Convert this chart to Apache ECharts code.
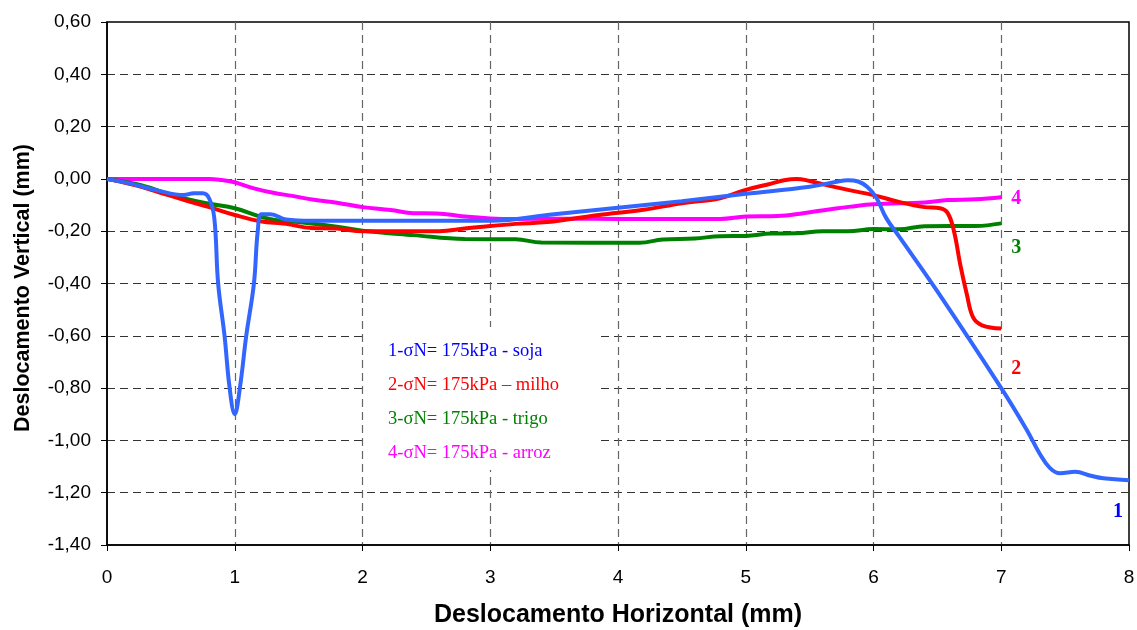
<!DOCTYPE html>
<html>
<head>
<meta charset="utf-8">
<style>
  html, body { margin: 0; padding: 0; background: #fff; }
  #chart { width: 1137px; height: 630px; }
</style>
<script src="https://cdn.jsdelivr.net/npm/echarts@6/dist/echarts.min.js"></script>
</head>
<body>
<div id="chart"></div>
<script>
// Vertical vs horizontal displacement, direct shear tests at sigma N = 175 kPa
const sojaX  = [0, 0.2, 0.4, 0.6, 0.68, 0.75, 0.8, 0.84, 0.87, 0.92, 0.96, 1.0, 1.04, 1.09, 1.15, 1.18, 1.21, 1.28, 1.4, 1.6, 2.0, 2.5, 3.0, 3.5, 4.0, 4.5, 5.0, 5.5, 5.7, 5.8, 5.88, 5.95, 6.02, 6.1, 6.2, 6.5, 7.0, 7.2, 7.3, 7.38, 7.46, 7.58, 7.7, 7.8, 8.0];
const sojaY  = [0, -0.02, -0.045, -0.062, -0.055, -0.055, -0.075, -0.15, -0.40, -0.60, -0.80, -0.90, -0.80, -0.60, -0.40, -0.20, -0.135, -0.135, -0.155, -0.16, -0.16, -0.16, -0.16, -0.135, -0.11, -0.085, -0.057, -0.03, -0.012, -0.005, -0.01, -0.03, -0.07, -0.15, -0.22, -0.43, -0.80, -0.96, -1.05, -1.105, -1.126, -1.12, -1.135, -1.145, -1.152];

const milhoX = [0, 0.2, 0.4, 0.6, 0.8, 1.0, 1.2, 1.4, 1.6, 1.8, 2.0, 2.3, 2.6, 2.8, 3.0, 3.2, 3.45, 3.6, 3.85, 4.2, 4.5, 4.8, 5.0, 5.2, 5.3, 5.4, 5.5, 5.6, 5.8, 6.0, 6.2, 6.4, 6.52, 6.58, 6.63, 6.68, 6.73, 6.78, 6.85, 7.0];
const milhoY = [0, -0.022, -0.05, -0.08, -0.108, -0.138, -0.162, -0.172, -0.188, -0.19, -0.2, -0.2, -0.2, -0.19, -0.18, -0.172, -0.165, -0.155, -0.138, -0.118, -0.093, -0.074, -0.042, -0.018, -0.005, 0.0, -0.008, -0.02, -0.042, -0.062, -0.088, -0.108, -0.112, -0.13, -0.2, -0.33, -0.44, -0.53, -0.56, -0.572];

const trigoX = [0, 0.26, 0.55, 0.8, 1.0, 1.2, 1.35, 1.5, 1.8, 2.0, 2.4, 2.8, 3.2, 3.4, 4.17, 4.35, 4.6, 4.8, 5.0, 5.2, 5.4, 5.6, 5.8, 6.0, 6.2, 6.4, 6.8, 7.0];
const trigoY = [0, -0.023, -0.068, -0.095, -0.112, -0.144, -0.16, -0.165, -0.183, -0.198, -0.215, -0.23, -0.231, -0.243, -0.244, -0.232, -0.228, -0.219, -0.218, -0.209, -0.208, -0.2, -0.2, -0.192, -0.193, -0.181, -0.18, -0.17];

const arrozX = [0, 0.4, 0.8, 0.88, 0.99, 1.15, 1.3, 1.45, 1.62, 1.8, 2.0, 2.22, 2.4, 2.58, 2.8, 3.0, 3.2, 3.6, 4.0, 4.8, 5.0, 5.25, 5.45, 5.65, 5.82, 6.0, 6.4, 6.58, 6.8, 7.0];
const arrozY = [0, 0, 0, -0.003, -0.012, -0.036, -0.053, -0.065, -0.08, -0.091, -0.108, -0.119, -0.131, -0.132, -0.144, -0.151, -0.153, -0.152, -0.153, -0.153, -0.144, -0.142, -0.131, -0.117, -0.106, -0.097, -0.09, -0.081, -0.078, -0.07];

const seriesNames = ['1-σN= 175kPa - soja', '2-σN= 175kPa – milho', '3-σN= 175kPa - trigo', '4-σN= 175kPa - arroz'];
const endTags = ['1', '2', '3', '4'];
const xTitle = 'Deslocamento Horizontal (mm)';
const yTitle = 'Deslocamento Vertical (mm)';

const lineColors = ['#3366ff', '#ff0000', '#008000', '#ff00ff'];
const textColors = ['#0000ff', '#ff0000', '#008000', '#ff00ff'];

function pairs(xs, ys) { return xs.map((x, i) => [x, ys[i]]); }

const sets = [pairs(sojaX, sojaY), pairs(milhoX, milhoY), pairs(trigoX, trigoY), pairs(arrozX, arrozY)];
// end-label offsets (px) relative to each curve's last point
const tagOffsets = [[-16, 32], [10, 40], [10, 24], [10, 2]];
// drawing order: arroz at the bottom, soja on top
const zOrder = [4, 3, 2, 1];

const series = sets.map((data, i) => ({
  name: seriesNames[i],
  type: 'line',
  data: data,
  smooth: 0.4,
  showSymbol: false,
  z: zOrder[i],
  lineStyle: { color: lineColors[i], width: 4 },
  itemStyle: { color: lineColors[i] },
  endLabel: {
    show: true,
    formatter: endTags[i],
    color: textColors[i],
    fontFamily: 'Liberation Serif',
    fontWeight: 'bold',
    fontSize: 20,
    distance: 0,
    offset: tagOffsets[i]
  }
}));

// text block of series names on a white panel inside the plot
const noteElements = [{
  type: 'rect',
  z: 5,
  shape: { x: 366, y: 327, width: 232, height: 143 },
  style: { fill: '#ffffff' }
}].concat(seriesNames.map((t, i) => ({
  type: 'text',
  z: 6,
  x: 388,
  y: 351 + i * 34,
  style: { text: t, fill: textColors[i], font: '18.5px "Liberation Serif"', textVerticalAlign: 'middle' }
})));

// vertical axis title
noteElements.push({
  type: 'text',
  z: 6,
  x: 23,
  y: 288,
  rotation: Math.PI / 2,
  style: {
    text: yTitle, fill: '#000', font: 'bold 21.5px "Liberation Sans"',
    textAlign: 'center', textVerticalAlign: 'middle'
  }
});

const chart = echarts.init(document.getElementById('chart'), null, { renderer: 'canvas' });
chart.setOption({
  animation: false,
  backgroundColor: '#ffffff',
  grid: {
    left: 107, right: 8, top: 22, bottom: 85,
    outerBoundsMode: 'none',
    show: true, borderColor: '#000', borderWidth: 1.5, backgroundColor: 'transparent'
  },
  xAxis: {
    type: 'value',
    min: 0, max: 8, interval: 1,
    name: xTitle,
    nameLocation: 'middle',
    nameGap: 58,
    nameTextStyle: { fontFamily: 'Liberation Sans', fontWeight: 'bold', fontSize: 25, color: '#000' },
    axisLine: { show: true, onZero: false, lineStyle: { color: '#000', width: 1.5 } },
    axisTick: { show: true, inside: false, length: 6, lineStyle: { color: '#000' } },
    axisLabel: { margin: 23, fontFamily: 'Liberation Sans', fontSize: 19, color: '#000' },
    splitLine: { show: true, showMinLine: false, showMaxLine: false, lineStyle: { color: '#666', type: [8, 5], width: 1.2 } }
  },
  yAxis: {
    type: 'value',
    min: -1.4, max: 0.6, interval: 0.2,
    axisLine: { show: true, onZero: false, lineStyle: { color: '#000', width: 1.5 } },
    axisTick: { show: true, inside: false, length: 6, lineStyle: { color: '#000' } },
    axisLabel: {
      margin: 16, fontFamily: 'Liberation Sans', fontSize: 19, color: '#000',
      formatter: v => v.toFixed(2).replace('.', ',')
    },
    splitLine: { show: true, showMinLine: false, showMaxLine: false, lineStyle: { color: '#333', type: [8, 5], width: 1 } }
  },
  graphic: { elements: noteElements },
  series: series
});
</script>
</body>
</html>
